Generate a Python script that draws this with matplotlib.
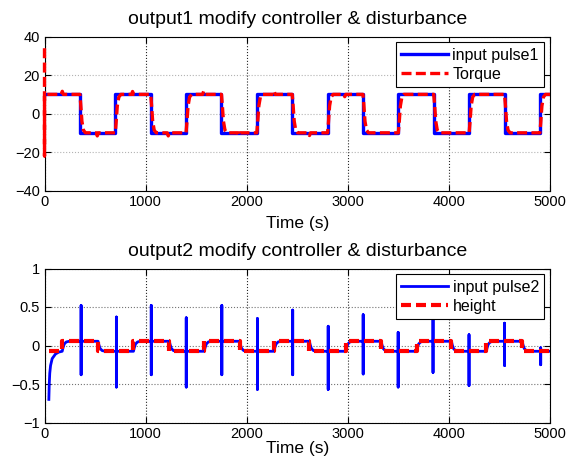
import numpy as np
import matplotlib
matplotlib.use("Agg")
import matplotlib.pyplot as plt

plt.rcParams['font.family'] = ['Liberation Sans', 'DejaVu Sans']

# ---------------- data ----------------
# Top panel: input pulse1 (square wave)
pulse1_switch_t = [0, 350, 700, 1050, 1400, 1750, 2100, 2450, 2800, 3150, 3500, 3850, 4200, 4550, 4900]
pulse1_levels = [10, -10, 10, -10, 10, -10, 10, -10, 10, -10, 10, -10, 10, -10, 10]
t_end = 5000

# Torque: initial spike, lagged transitions, small disturbance bumps
torque_init_t = [0, 0, 0, 0]
torque_init_v = [34, -22, 0, 10]
torque_lag_dt = [0, 8, 20, 35, 55]          # transition shape (s after switch)
torque_lag_frac = [0.0, 0.25, 0.7, 0.93, 1.0]
torque_bump_t = [176, 522, 871, 1224, 1574, 1923, 2272, 2621, 2970]
torque_bump_v = [11.6, -11.6, 11.5, -11.6, 11.6, -11.5, 11.6, -11.4, 8.8]

# Bottom panel: height (red) and input pulse2 (blue)
height_start_t = 43
height_switch_t = [175, 530, 880, 1235, 1580, 1930, 2270, 2620, 2980, 3330, 3680, 4025, 4370, 4725]
height_hi, height_lo = 0.055, -0.075

pulse2_start_t = [43, 47, 52, 60, 76, 109, 142, 172]
pulse2_start_v = [-0.70, -0.50, -0.36, -0.26, -0.17, -0.11, -0.085, -0.075]
pulse2_lag_dt = [0, 8, 20, 40, 70]
pulse2_lag_frac = [0.0, 0.35, 0.72, 0.93, 1.0]
spike_t = [362, 711, 1056, 1402, 1754, 2106, 2455, 2806, 3152, 3498, 3843, 4199, 4551, 4908]
spike_top = [0.52, 0.37, 0.52, 0.36, 0.52, 0.35, 0.46, 0.25, 0.40, 0.17, 0.33, 0.14, 0.29, -0.03]
spike_bot = [-0.38, -0.54, -0.38, -0.54, -0.38, -0.57, -0.38, -0.57, -0.37, -0.54, -0.35, -0.52, -0.26, -0.25]

xticks = [0, 1000, 2000, 3000, 4000, 5000]
yticks_top = [-40, -20, 0, 20, 40]
yticks_bot = [-1, -0.5, 0, 0.5, 1]
yticklabels_bot = ['\u22121', '\u22120.5', '0', '0.5', '1']

# ---------------- build polylines ----------------
# pulse1 (steps)
p1_t = list(pulse1_switch_t) + [t_end]
p1_v = list(pulse1_levels) + [pulse1_levels[-1]]

# torque
tq_t = list(torque_init_t)
tq_v = list(torque_init_v)
for i in range(1, len(pulse1_switch_t)):
    s = pulse1_switch_t[i]
    a, b = pulse1_levels[i - 1], pulse1_levels[i]
    for dt, f in zip(torque_lag_dt, torque_lag_frac):
        tq_t.append(s + dt)
        tq_v.append(a + (b - a) * f)
tq_t.append(t_end)
tq_v.append(pulse1_levels[-1])
tq_t = np.array(tq_t, float)
tq_v = np.array(tq_v, float)
for bt, bv in zip(torque_bump_t, torque_bump_v):
    lvl = np.interp(bt, tq_t[3:], tq_v[3:])
    idx = np.searchsorted(tq_t, bt - 10, side='right')
    tq_t = np.insert(tq_t, idx, [bt - 10, bt, bt + 10])
    tq_v = np.insert(tq_v, idx, [lvl, bv, lvl])

# height (steps)
lvl = height_lo
h_t = [height_start_t]
h_v = [lvl]
for s in height_switch_t:
    new = height_hi if lvl == height_lo else height_lo
    h_t += [s, s]
    h_v += [lvl, new]
    lvl = new
h_t.append(t_end)
h_v.append(lvl)

# pulse2
b_t = list(pulse2_start_t)
b_v = list(pulse2_start_v)
lvl = height_lo
for s in height_switch_t:
    new = height_hi if lvl == height_lo else height_lo
    for dt, f in zip(pulse2_lag_dt, pulse2_lag_frac):
        b_t.append(s + dt)
        b_v.append(lvl + (new - lvl) * f)
    lvl = new
b_t.append(t_end)
b_v.append(lvl)
b_t = np.array(b_t, float)
b_v = np.array(b_v, float)
for st, top, bot in zip(spike_t, spike_top, spike_bot):
    lv = np.interp(st, b_t, b_v)
    idx = np.searchsorted(b_t, st, side='right')
    b_t = np.insert(b_t, idx, [st, st, st, st])
    b_v = np.insert(b_v, idx, [lv, top, bot, lv])

# ---------------- figure ----------------
fig = plt.figure(figsize=(5.82, 4.68), dpi=100)
ax1 = fig.add_axes([44.5 / 582, 1 - 190.5 / 468, 505.5 / 582, 153.8 / 468])
ax2 = fig.add_axes([44.5 / 582, 1 - 422.5 / 468, 505.5 / 582, 154 / 468])

blue = '#0000ff'
red = '#ff0000'

def style(ax, ygrid_color, labelpad):
    ax.set_xlim(0, 5000)
    ax.set_xticks(xticks)
    ax.tick_params(direction='in', top=True, right=True, labelsize=10.5, length=4, width=0.8)
    for sp in ax.spines.values():
        sp.set_linewidth(0.8)
    ax.xaxis.grid(True, linestyle=':', color='0.15', linewidth=0.8)
    ax.yaxis.grid(True, linestyle=':', color=ygrid_color, linewidth=0.8)
    ax.set_axisbelow(True)
    ax.set_xlabel('Time (s)', fontsize=12.5, labelpad=labelpad)

ax1.plot(p1_t, p1_v, color=blue, lw=2.4, drawstyle='steps-post', label='input pulse1')
ax1.plot(tq_t, tq_v, color=red, lw=2.4, dashes=(3.0, 1.3), label='Torque',
         clip_on=False, zorder=3)
ax1.set_ylim(-40, 40)
ax1.set_yticks(yticks_top)
style(ax1, '0.7', 5)
ax1.set_title('output1 modify controller & disturbance', fontsize=14, pad=9)
leg1 = ax1.legend(loc='upper right', fontsize=11.5, fancybox=False, framealpha=1,
                  edgecolor='black', handlelength=2.9, handletextpad=0.3,
                  borderaxespad=0.35, borderpad=0.35, labelspacing=0.25)
leg1.get_frame().set_linewidth(0.8)
leg1.set_zorder(5)

ax2.plot(b_t, b_v, color=blue, lw=2.0, label='input pulse2')
ax2.plot(h_t, h_v, color=red, lw=3.0, dashes=(2.4, 1.2), label='height')
ax2.set_ylim(-1, 1)
ax2.set_yticks(yticks_bot)
ax2.set_yticklabels(yticklabels_bot)
style(ax2, '0.45', 0)
ax2.set_title('output2 modify controller & disturbance', fontsize=14, pad=9)
leg2 = ax2.legend(loc='upper right', fontsize=11.5, fancybox=False, framealpha=1,
                  edgecolor='black', handlelength=2.9, handletextpad=0.3,
                  borderaxespad=0.35, borderpad=0.35, labelspacing=0.25)
leg2.get_frame().set_linewidth(0.8)

fig.savefig('out.png', dpi=100)
